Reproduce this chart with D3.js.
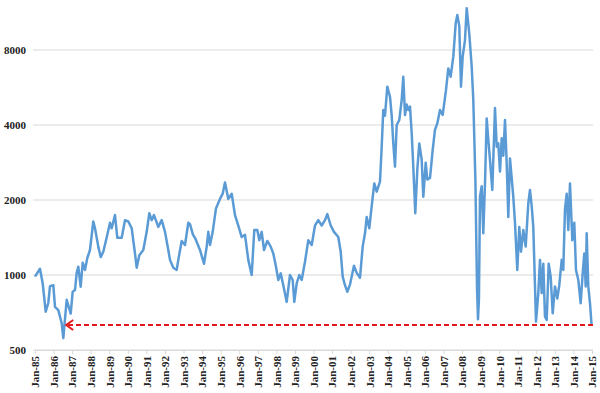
<!DOCTYPE html>
<html>
<head>
<meta charset="utf-8">
<script src="https://cdn.jsdelivr.net/npm/d3@7"></script>
<style>
  body { margin: 0; background: #fff; }
  svg text { font-family: "Liberation Serif", "Times New Roman", serif; font-weight: bold; fill: #222; }
</style>
</head>
<body>
<div class="chart"></div>
<script>
// decimal years
const years = [
  0.000, 0.269, 0.415, 0.576, 0.716, 0.808, 0.986, 1.077, 1.255, 1.438,
  1.524, 1.707, 1.923, 2.030, 2.154, 2.246, 2.332, 2.461, 2.569, 2.693,
  2.817, 2.962, 3.140, 3.232, 3.409, 3.539, 3.679, 3.894, 4.039, 4.131,
  4.309, 4.433, 4.670, 4.847, 5.025, 5.208, 5.386, 5.477, 5.617, 5.833,
  6.016, 6.156, 6.285, 6.409, 6.641, 6.824, 7.002, 7.179, 7.271, 7.449,
  7.632, 7.718, 7.901, 8.079, 8.257, 8.348, 8.510, 8.617, 8.887, 9.102,
  9.248, 9.334, 9.425, 9.571, 9.748, 9.964, 10.109, 10.233, 10.411, 10.594,
  10.772, 10.950, 11.133, 11.310, 11.488, 11.671, 11.811, 11.973, 12.081, 12.210,
  12.334, 12.511, 12.694, 12.835, 12.980, 13.104, 13.233, 13.373, 13.556, 13.734,
  13.879, 13.966, 14.095, 14.235, 14.364, 14.542, 14.720, 14.903, 15.081, 15.258,
  15.441, 15.619, 15.743, 15.926, 16.104, 16.335, 16.465, 16.572, 16.696, 16.820,
  16.966, 17.180, 17.326, 17.504, 17.650, 17.774, 17.865, 18.005, 18.134, 18.274,
  18.404, 18.581, 18.673, 18.759, 18.851, 18.975, 19.120, 19.212, 19.298, 19.389,
  19.481, 19.621, 19.750, 19.836, 19.928, 20.019, 20.106, 20.197, 20.289, 20.375,
  20.482, 20.590, 20.698, 20.827, 20.914, 21.043, 21.129, 21.274, 21.420, 21.544,
  21.668, 21.813, 21.958, 22.136, 22.260, 22.389, 22.529, 22.659, 22.745, 22.852,
  22.944, 23.035, 23.159, 23.251, 23.391, 23.520, 23.607, 23.720, 23.810, 23.860,
  23.910, 23.967, 24.059, 24.145, 24.237, 24.328, 24.414, 24.506, 24.630, 24.775,
  24.867, 24.953, 25.045, 25.136, 25.222, 25.314, 25.405, 25.492, 25.583, 25.675,
  25.761, 25.852, 25.976, 26.084, 26.175, 26.299, 26.429, 26.569, 26.660, 26.752,
  26.838, 26.930, 26.984, 27.108, 27.199, 27.291, 27.377, 27.468, 27.560, 27.667,
  27.775, 27.883, 28.007, 28.131, 28.239, 28.368, 28.454, 28.545, 28.637, 28.723,
  28.815, 28.939, 29.046, 29.138, 29.262, 29.391, 29.498, 29.585, 29.660, 29.714,
  29.800, 29.892, 29.973
];

const index = [
  985, 1060, 925, 712, 772, 902, 910, 745, 723, 640,
  558, 795, 700, 857, 870, 1020, 1080, 897, 1120, 1048,
  1170, 1260, 1640, 1540, 1300, 1180, 1240, 1450, 1620, 1540,
  1740, 1410, 1410, 1660, 1640, 1540, 1220, 1070, 1200, 1260,
  1490, 1770, 1660, 1740, 1560, 1660, 1490, 1260, 1150, 1070,
  1048, 1150, 1370, 1320, 1620, 1600, 1450, 1410, 1260, 1110,
  1300, 1490, 1320, 1490, 1850, 2020, 2120, 2350, 2020, 2120,
  1740, 1580, 1420, 1450, 1150, 1000, 1515, 1515, 1380, 1490,
  1260, 1370, 1300, 1220, 1080, 955, 1015, 910, 780, 1000,
  955, 780, 925, 1000, 955, 1130, 1380, 1320, 1580, 1660,
  1580, 1660, 1755, 1580, 1490, 1420, 1240, 985, 910, 857,
  915, 1090, 1020, 975, 1300, 1470, 1710, 1540, 1890, 2330,
  2160, 2370, 3270, 4595, 4360, 5700, 5195, 4360, 3375, 2720,
  4000, 4190, 5040, 6250, 4390, 4830, 4595, 4740, 3700, 2720,
  1770, 2640, 3375, 2900, 2060, 2825, 2415, 2450, 3175, 3830,
  4060, 4595, 4390, 5520, 6750, 6250, 7520, 10240, 11050, 10000,
  5700, 7520, 8770, 11770, 9290, 6870, 5040, 2400, 870, 665,
  800, 2060, 2270, 1470, 2330, 4250, 3500, 2900, 2195, 4680,
  3270, 3375, 2600, 3540, 3010, 4190, 2825, 1710, 2935, 2450,
  2060, 1620, 1048, 1560, 1240, 1515, 1300, 1940, 2195, 1890,
  1560, 900, 650, 846, 1150, 846, 1110, 680, 660, 1110,
  985, 702, 900, 805, 910, 1150, 1048, 1840, 2120, 1515,
  2330, 1380, 1620, 1048, 955, 770, 1015, 1220, 900, 1470,
  900, 770, 635
];

const yTicks = [500, 1000, 2000, 4000, 8000];
const xTicks = d3.range(1985, 2016);
const arrowLevel = 630;
const arrowFrom = 1986.68;

var cfg = {
  width: 600,
  height: 393,
  margin: {top: 8, right: 8, bottom: 43, left: 35}
};

var svg = d3.select(".chart").append("svg")
  .attr("width", cfg.width)
  .attr("height", cfg.height);

var x = d3.scaleLinear()
  .domain([1985, 2015])
  .range([cfg.margin.left, 592]);

var y = d3.scaleLog()
  .base(2)
  .domain([500, 8000])
  .range([350, 50]);

// gridlines
svg.append("g")
  .selectAll("line")
  .data(yTicks)
  .enter().append("line")
  .attr("x1", 33)
  .attr("x2", 593)
  .attr("y1", d => y(d))
  .attr("y2", d => y(d))
  .attr("stroke", "#d9d9d9")
  .attr("stroke-width", 1);

// y labels
svg.append("g")
  .selectAll("text")
  .data(yTicks)
  .enter().append("text")
  .attr("x", 26)
  .attr("y", d => y(d))
  .attr("dy", "0.35em")
  .attr("text-anchor", "end")
  .style("font-size", "11px")
  .text(d => d);

// x axis
var xAxis = svg.append("g")
  .attr("transform", `translate(0,${y(500)})`)
  .call(d3.axisBottom(x)
    .tickValues(xTicks)
    .tickSize(4)
    .tickFormat(d => "Jan-" + String(d).slice(2)));

xAxis.select(".domain").attr("stroke", "#d9d9d9");
xAxis.selectAll(".tick line").attr("stroke", "#d9d9d9");
xAxis.selectAll(".tick text")
  .attr("transform", "rotate(-90)")
  .attr("x", -6)
  .attr("y", 0)
  .attr("dy", "0.35em")
  .attr("text-anchor", "end")
  .style("font-size", "11px")
  .style("font-family", "'Liberation Serif', 'Times New Roman', serif")
  .style("font-weight", "bold")
  .attr("fill", "#222");

// index line
var series = years.map((t, i) => ({t: 1985 + t, v: index[i]}));

svg.append("path")
  .datum(series)
  .attr("fill", "none")
  .attr("stroke", "#5b9bd5")
  .attr("stroke-width", 2.5)
  .attr("stroke-linejoin", "round")
  .attr("d", d3.line()
    .x(d => x(d.t))
    .y(d => y(d.v)));

// red dashed arrow
var ay = y(arrowLevel);
var ax = x(arrowFrom);
svg.append("line")
  .attr("x1", x(2015) + 1)
  .attr("x2", ax + 2)
  .attr("y1", ay)
  .attr("y2", ay)
  .attr("stroke", "#e31a1c")
  .attr("stroke-width", 2)
  .attr("stroke-dasharray", "5,3");

svg.append("path")
  .attr("d", `M${ax + 7},${ay - 5} L${ax},${ay} L${ax + 7},${ay + 5}`)
  .attr("fill", "none")
  .attr("stroke", "#e31a1c")
  .attr("stroke-width", 2);
</script>
</body>
</html>
